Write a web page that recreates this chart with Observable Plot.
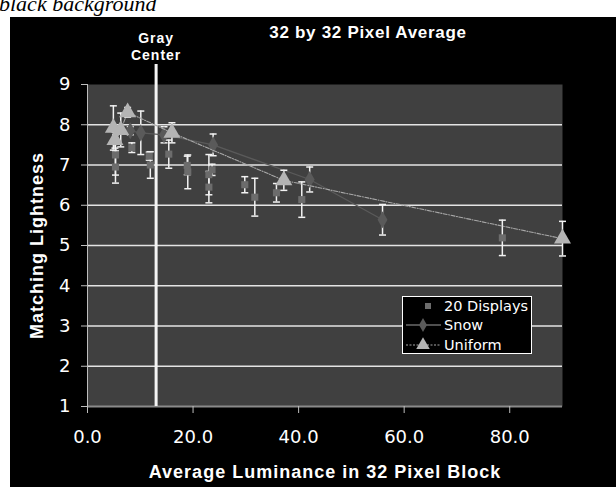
<!DOCTYPE html>
<html>
<head>
<meta charset="utf-8">
<script src="https://cdn.jsdelivr.net/npm/d3@7"></script>
<script src="https://cdn.jsdelivr.net/npm/@observablehq/plot@0.6"></script>
<style>
  html, body { margin: 0; padding: 0; background: #fff; width: 616px; height: 487px; overflow: hidden; }
  #cut { position: absolute; left: -1px; top: -7px; font: italic 22px "Liberation Serif", serif; color: #000; line-height: 22px; white-space: nowrap; }
  #panel { position: absolute; left: 10px; top: 17px; width: 606px; height: 470px; background: #000; overflow: hidden; }
  #chart { position: absolute; left: 0; top: 0; }
  #title { position: absolute; left: 208px; width: 300px; top: 6px; text-align: center; color: #fff;
           font: bold 17px "Liberation Sans", sans-serif; letter-spacing: 0.7px; }
  #legend { position: absolute; left: 392px; top: 279px; width: 128px; height: 56px; border: 1px solid #fff; background: #000; }
  #legend svg { position: absolute; left: 0; top: 0; }
</style>
</head>
<body>
<div id="cut">black background</div>
<div id="panel">
  <div id="chart"></div>
  <div id="title">32 by 32 Pixel Average</div>
  <div id="legend"></div>
</div>
<script>
// ---- data ----
const displaysX   = [5.3, 5.3, 8.4, 11.7, 11.9, 15.4, 18.9, 19.0, 23.0, 23.0, 23.6, 29.8, 31.7, 35.8, 40.6, 78.6];
const displaysY   = [7.25, 6.95, 7.43, 7.22, 7.00, 7.27, 6.99, 6.83, 6.76, 6.45, 6.88, 6.51, 6.20, 6.31, 6.14, 5.19];
const displaysErr = [0.50, 0.40, 0.12, 0.10, 0.33, 0.35, 0.23, 0.42, 0.50, 0.39, 0.14, 0.20, 0.47, 0.23, 0.44, 0.44];

const snowX   = [8.1, 10.1, 14.5, 23.8, 42.1, 55.9];
const snowY   = [7.85, 7.80, 7.75, 7.50, 6.64, 5.64];
const snowErr = [0.10, 0.54, 0.20, 0.27, 0.31, 0.38];

const uniformX   = [4.9, 5.2, 6.3, 7.6, 16.0, 37.2, 90.0];
const uniformY   = [7.92, 7.62, 7.87, 8.31, 7.80, 6.62, 5.17];
const uniformErr = [0.55, 0.20, 0.42, 0.12, 0.25, 0.25, 0.43];

const xTicks = [0, 20, 40, 60, 80];
const yTicks = [1, 2, 3, 4, 5, 6, 7, 8, 9];
const gridY  = [2, 3, 4, 5, 6, 7, 8];
const grayCenterX = [13];
const grayCenterTop = 9.5;
const seriesNames = ["20 Displays", "Snow", "Uniform"];

// ---- tables ----
const rows = (xs, ys, es) => xs.map((x, i) => ({x, y: ys[i], e: es[i]}));
const displays = rows(displaysX, displaysY, displaysErr);
const snow = rows(snowX, snowY, snowErr);
const uniform = rows(uniformX, uniformY, uniformErr);

const cap = { draw(ctx) { ctx.moveTo(-3.5, 0); ctx.lineTo(3.5, 0); } };
const errMarks = (data) => [
  Plot.ruleX(data, {x: "x", y1: d => d.y - d.e, y2: d => d.y + d.e, stroke: "#f2f2f2", strokeWidth: 1.5}),
  Plot.dot(data, {x: "x", y: d => d.y + d.e, symbol: cap, r: 3, stroke: "#f2f2f2", strokeWidth: 1.5, fill: "none"}),
  Plot.dot(data, {x: "x", y: d => d.y - d.e, symbol: cap, r: 3, stroke: "#f2f2f2", strokeWidth: 1.5, fill: "none"})
];

const SQ = "#6c6c6c", DM = "#5a5a5a", TR = "#b4b4b4";

const chart = Plot.plot({
  width: 606,
  height: 470,
  marginLeft: 77,
  marginRight: 54,
  marginTop: 67,
  marginBottom: 81,
  style: {background: "transparent", color: "#fff", fontFamily: "'DejaVu Sans', sans-serif", fontSize: "18px"},
  x: {domain: [0, 90]},
  y: {domain: [1, 9]},
  marks: [
    Plot.frame({fill: "#404040", stroke: null}),
    Plot.ruleY(gridY, {stroke: "#e4e4e4", strokeWidth: 1.5}),
    Plot.ruleY([1], {stroke: "#8a8a8a", strokeWidth: 2}),
    Plot.ruleX([0], {y1: 1, y2: 9, stroke: "#bdbdbd", strokeWidth: 1}),
    Plot.axisX({ticks: xTicks, tickFormat: d3.format(".1f"), tickSize: 7, tickPadding: 17, stroke: "#bdbdbd", label: null, fontSize: 18}),
    Plot.axisY({ticks: yTicks, tickFormat: d3.format("d"), tickSize: 6, tickPadding: 11, stroke: "#bdbdbd", label: null, fontSize: 18}),
    // gray center line
    Plot.ruleX(grayCenterX, {y1: 1, y2: grayCenterTop, stroke: "#f4f4f4", strokeWidth: 3}),
    Plot.text(grayCenterX, {x: d => d, y: grayCenterTop, text: () => "Gray\nCenter", lineAnchor: "bottom", dy: -4,
      fill: "#fff", fontSize: 14, fontWeight: "bold", fontFamily: "'Liberation Sans', sans-serif", lineHeight: 1.25}),
    // 20 displays
    ...errMarks(displays),
    Plot.dot(displays, {x: "x", y: "y", symbol: "square", r: 4, fill: SQ}),
    // snow
    Plot.line(snow, {x: "x", y: "y", stroke: DM, strokeWidth: 1.3}),
    ...errMarks(snow),
    Plot.dot(snow, {x: "x", y: "y", symbol: "diamond", r: 5.2, fill: DM}),
    // uniform
    Plot.line(uniform, {x: "x", y: "y", stroke: "#a8a8a8", strokeWidth: 1.1, strokeDasharray: "4 1.5 1 1.5"}),
    ...errMarks(uniform),
    Plot.dot(uniform, {x: "x", y: "y", symbol: "triangle", r: 6.3, fill: TR}),
    // axis titles
    Plot.text(["Matching Lightness"], {frameAnchor: "left", textAnchor: "middle", text: d => d, rotate: -90, dx: -50,
      fill: "#fff", fontSize: 18, fontWeight: "bold", fontFamily: "'Liberation Sans', sans-serif"}),
    Plot.text(["Average Luminance in 32 Pixel Block"], {frameAnchor: "bottom", text: d => d, dy: 71,
      fill: "#fff", fontSize: 18, fontWeight: "bold", fontFamily: "'Liberation Sans', sans-serif"})
  ]
});
chart.querySelectorAll("g[font-weight='bold'] text, text[font-weight='bold']").forEach(t => {
  t.setAttribute("letter-spacing", "1");
});
document.getElementById("chart").append(chart);

// ---- legend ----
const lg = d3.select("#legend").append("svg").attr("width", 128).attr("height", 56);
const rowY = [9, 28, 48];
lg.append("rect").attr("x", 22).attr("y", rowY[0] - 3).attr("width", 6).attr("height", 6).attr("fill", SQ);
lg.append("line").attr("x1", 3).attr("x2", 38).attr("y1", rowY[1]).attr("y2", rowY[1]).attr("stroke", "#6a6a6a").attr("stroke-width", 1.3);
lg.append("path").attr("d", d3.symbol(d3.symbolDiamond, 55)()).attr("transform", `translate(20,${rowY[1]})`).attr("fill", DM);
lg.append("line").attr("x1", 3).attr("x2", 38).attr("y1", rowY[2]).attr("y2", rowY[2]).attr("stroke", "#a8a8a8").attr("stroke-width", 1).attr("stroke-dasharray", "2 1.5");
lg.append("path").attr("d", d3.symbol(d3.symbolTriangle, 80)()).attr("transform", `translate(20,${rowY[2]})`).attr("fill", TR);
seriesNames.forEach((name, i) => {
  lg.append("text").attr("x", 41).attr("y", rowY[i]).attr("dy", "0.36em").attr("fill", "#fff")
    .attr("font-family", "'DejaVu Sans', sans-serif").attr("font-size", 14.5).text(name);
});
</script>
</body>
</html>
